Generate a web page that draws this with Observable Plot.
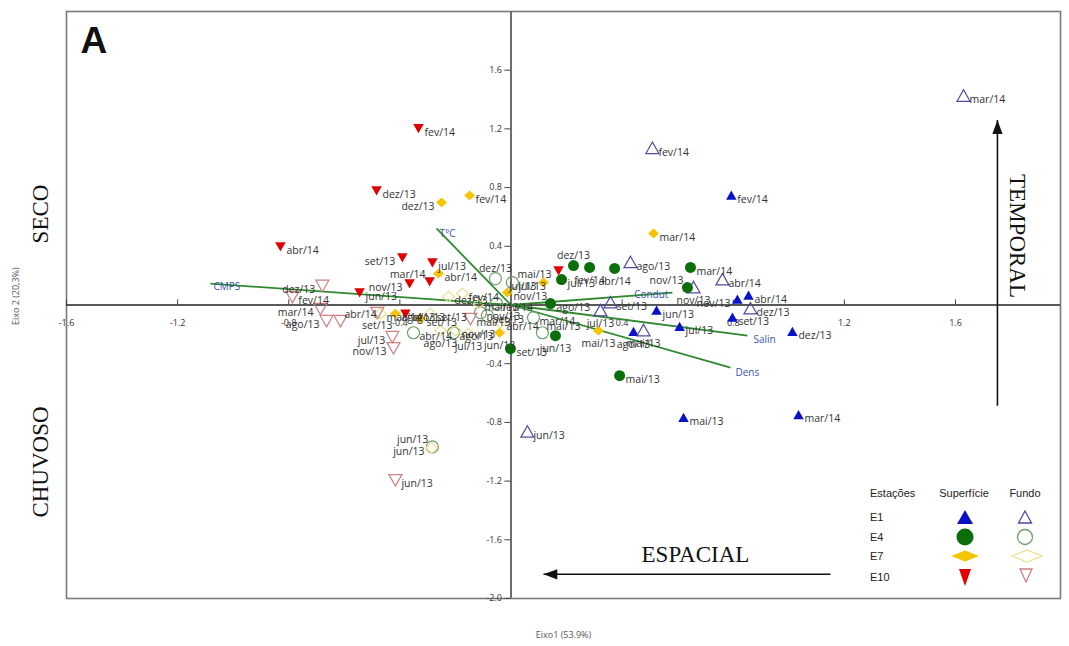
<!DOCTYPE html>
<html>
<head>
<meta charset="utf-8">
<script src="https://cdn.jsdelivr.net/npm/d3@7"></script>
<script src="https://cdn.jsdelivr.net/npm/@observablehq/plot@0.6"></script>
<style>
  html, body { margin: 0; padding: 0; background: #fff; }
  #wrap { position: relative; width: 1069px; height: 646px; }
  #legend { position: absolute; left: 855px; top: 480px; }
</style>
</head>
<body>
<div id="wrap"></div>
<script>
// Sampling months
const months = ["mai/13","jun/13","jul/13","ago/13","set/13","nov/13","dez/13","fev/14","mar/14","abr/14"];

// PCA scores (Eixo 1, Eixo 2) per station and depth, in month order
const e1SupX  = [0.621, 0.524, 0.607, 0.441, 0.797, 0.815, 1.013, 0.793, 1.035, 0.855];
const e1SupY  = [-0.769, -0.038, -0.148, -0.182, -0.086, 0.037, -0.182, 0.747, -0.749, 0.064];
const e1FunX  = [0.477, 0.059, 0.322, 0.430, 0.358, 0.657, 0.862, 0.509, 1.629, 0.761];
const e1FunY  = [-0.174, -0.865, -0.038, 0.290, 0.016, 0.119, -0.025, 1.068, 1.424, 0.173];
const e4SupX  = [0.391, 0.160, 0.182, 0.142, -0.002, 0.635, 0.225, 0.283, 0.646, 0.373];
const e4SupY  = [-0.482, -0.209, 0.173, 0.010, -0.298, 0.119, 0.269, 0.256, 0.256, 0.249];
const e4FunX  = [0.113, -0.283, 0.005, -0.207, -0.085, -0.110, -0.056, -0.052, 0.081, -0.351];
const e4FunY  = [-0.189, -0.967, 0.153, -0.189, -0.072, -0.052, 0.180, 0.010, -0.086, -0.189];
const e7SupX  = [0.315, -0.041, 0.117, -0.416, -0.326, -0.013, -0.250, -0.149, 0.513, -0.261];
const e7SupY  = [-0.175, -0.189, 0.153, -0.059, -0.093, 0.085, 0.699, 0.747, 0.488, 0.214];
const e7FunX  = [-0.117, -0.286, -0.153, -0.254, -0.290, -0.200, -0.225, -0.175, -0.470, -0.038];
const e7FunY  = [0.010, -0.974, -0.195, -0.175, -0.059, -0.175, 0.057, 0.078, -0.059, -0.121];
const e10SupX = [0.171, -0.545, -0.283, -0.380, -0.391, -0.365, -0.484, -0.333, -0.293, -0.830];
const e10SupY = [0.235, 0.085, 0.290, -0.059, 0.324, 0.146, 0.781, 1.205, 0.160, 0.399];
const e10FunX = [-0.146, -0.416, -0.427, -0.664, -0.481, -0.423, -0.679, -0.787, -0.686, -0.614];
const e10FunY = [-0.093, -1.192, -0.216, -0.107, -0.052, -0.292, 0.133, 0.057, -0.025, -0.107];

// Environmental variable loadings
const varNames = ["CMPS", "T°C", "Condut", "Salin", "Dens"];
const varX = [-1.082, -0.268, 0.581, 0.851, 0.790];
const varY = [0.146, 0.522, 0.085, -0.209, -0.427];

// Axis ticks
const xTicks = [-1.6, -1.2, -0.8, -0.4, 0.4, 0.8, 1.2, 1.6];
const yTicks = [1.6, 1.2, 0.8, 0.4, -0.4, -0.8, -1.2, -1.6, -2.0];

// Marker shapes
const triUp = { draw(c, s) { const r = Math.sqrt(s / Math.PI);
  c.moveTo(0, -r); c.lineTo(r * 1.05, r * 0.85); c.lineTo(-r * 1.05, r * 0.85); c.closePath(); } };
const triDown = { draw(c, s) { const r = Math.sqrt(s / Math.PI);
  c.moveTo(0, r); c.lineTo(r * 1.05, -r * 0.85); c.lineTo(-r * 1.05, -r * 0.85); c.closePath(); } };
const diamond = { draw(c, s) { const r = Math.sqrt(s / Math.PI);
  c.moveTo(-r * 0.95, 0); c.lineTo(0, -r * 0.85); c.lineTo(r * 0.95, 0); c.lineTo(0, r * 0.85); c.closePath(); } };
const arrowHead = { draw(c, s) { const r = Math.sqrt(s / Math.PI);
  c.moveTo(0, 0); c.lineTo(r * 0.85, r * 2.3); c.lineTo(-r * 0.85, r * 2.3); c.closePath(); } };

const series = [
  {key: "E1S",  xs: e1SupX,  ys: e1SupY,  symbol: triUp,    r: 5,   fill: "#0a12c8", stroke: "none",    sw: 0},
  {key: "E1F",  xs: e1FunX,  ys: e1FunY,  symbol: triUp,    r: 6.2, fill: "none",    stroke: "#4b4ba3", sw: 1.2},
  {key: "E4S",  xs: e4SupX,  ys: e4SupY,  symbol: "circle", r: 5.5, fill: "#0a6e0a", stroke: "none",    sw: 0},
  {key: "E4F",  xs: e4FunX,  ys: e4FunY,  symbol: "circle", r: 6,   fill: "none",    stroke: "#6c9c6c", sw: 1.2},
  {key: "E7S",  xs: e7SupX,  ys: e7SupY,  symbol: diamond,  r: 5.8, fill: "#f5c400", stroke: "none",    sw: 0},
  {key: "E7F",  xs: e7FunX,  ys: e7FunY,  symbol: diamond,  r: 6.2, fill: "none",    stroke: "#ebe08e", sw: 1.2},
  {key: "E10S", xs: e10SupX, ys: e10SupY, symbol: triDown,  r: 5,   fill: "#e00000", stroke: "none",    sw: 0},
  {key: "E10F", xs: e10FunX, ys: e10FunY, symbol: triDown,  r: 6.2, fill: "none",    stroke: "#cc8080", sw: 1.2}
];

// Where each month label sits relative to its marker (default: right)
const labelPlacement = {
  "E1S nov/13": "l", "E1S ago/13": "b",
  "E1F mai/13": "b", "E1F jul/13": "b", "E1F nov/13": "b",
  "E4S nov/13": "lu", "E4S jun/13": "b", "E4S abr/14": "b", "E4S fev/14": "b", "E4S dez/13": "a",
  "E4F jun/13": "lu", "E4F dez/13": "a", "E4F mai/13": "ru",
  "E7S dez/13": "l", "E7S jul/13": "l", "E7S mai/13": "b", "E7S jun/13": "b",
  "E7F jun/13": "l", "E7F jul/13": "b", "E7F ago/13": "b",
  "E10S set/13": "l", "E10S nov/13": "l", "E10S mar/14": "lu", "E10S mai/13": "l",
  "E10F dez/13": "l", "E10F mar/14": "l", "E10F ago/13": "l", "E10F jul/13": "l",
  "E10F nov/13": "l", "E10F set/13": "b", "E10F abr/14": "ru"
};
const placements = {
  r:  {dx: 6,  dy: 4,  textAnchor: "start"},
  l:  {dx: -7, dy: 4,  textAnchor: "end"},
  b:  {dx: 0,  dy: 13, textAnchor: "middle"},
  a:  {dx: 0,  dy: -10, textAnchor: "middle"},
  lu: {dx: -4, dy: -7, textAnchor: "end"},
  ru: {dx: 4,  dy: -6, textAnchor: "start"}
};

const points = series.flatMap(s => months.map((m, i) => ({
  key: s.key, month: m, x: s.xs[i], y: s.ys[i],
  side: labelPlacement[`${s.key} ${m}`] || "r"
})));

const vectors = varNames.map((name, i) => ({name, x: varX[i], y: varY[i]}));
const vectorLabel = {
  "CMPS":   {dx: 3,  dy: 3, textAnchor: "start"},
  "T°C":    {dx: 3,  dy: 5, textAnchor: "start"},
  "Condut": {dx: -4, dy: 2, textAnchor: "end"},
  "Salin":  {dx: 6,  dy: 4, textAnchor: "start"},
  "Dens":   {dx: 5,  dy: 5, textAnchor: "start"}
};

// Interpretive annotations: axis meanings and arrows
const sideNotes = [
  {text: "SECO",    x: -1.694, y: 0.62,  rotate: -90},
  {text: "CHUVOSO", x: -1.694, y: -1.07, rotate: -90},
  {text: "TEMPORAL", x: 1.822, y: 0.47,  rotate: 90},
  {text: "ESPACIAL", x: 0.664, y: -1.70, rotate: 0}
];
const arrows = [
  {x1: 1.751, y1: -0.687, x2: 1.751, y2: 1.26,   rotate: 0},
  {x1: 1.150, y1: -1.835, x2: 0.117, y2: -1.835, rotate: -90}
];

const labelFont = "'Open Sans', sans-serif";

const marks = [
  Plot.frame({stroke: "#7a7a7a", strokeWidth: 1.6}),
  Plot.ruleX([0], {stroke: "#6e6e6e", strokeWidth: 2}),
  Plot.ruleY([0], {stroke: "#222", strokeWidth: 1.3}),
  Plot.ruleX(xTicks, {x: d => d, y1: 0, y2: 0.035, stroke: "#444"}),
  Plot.ruleY(yTicks, {y: d => d, x1: -0.022, x2: 0, stroke: "#444"}),
  Plot.text(xTicks, {x: d => d, y: 0, text: d => d.toFixed(1), dy: 18, fontSize: 9, fill: "#333"}),
  Plot.text(yTicks, {x: 0, y: d => d, text: d => d.toFixed(1), dx: -9, textAnchor: "end", fontSize: 9, fill: "#333"}),
  Plot.link(vectors, {x1: 0, y1: 0, x2: "x", y2: "y", stroke: "#2e8a2e", strokeWidth: 1.8})
];

for (const s of series) {
  marks.push(Plot.dot(points.filter(p => p.key === s.key), {
    x: "x", y: "y", symbol: s.symbol, r: s.r,
    fill: s.fill, stroke: s.stroke, strokeWidth: s.sw
  }));
}

for (const [side, opt] of Object.entries(placements)) {
  marks.push(Plot.text(points.filter(p => p.side === side), {
    x: "x", y: "y", text: "month", ...opt,
    fontSize: 10.5, fontFamily: labelFont, fill: "#333"
  }));
}

for (const v of vectors) {
  marks.push(Plot.text([v], {
    x: "x", y: "y", text: "name", ...vectorLabel[v.name],
    fontSize: 10, fontFamily: labelFont, fill: "#3a55b0"
  }));
}

marks.push(
  Plot.link(arrows, {x1: "x1", y1: "y1", x2: "x2", y2: "y2", stroke: "#111", strokeWidth: 1.6}),
  ...arrows.map(a => Plot.dot([a], {x: "x2", y: "y2", symbol: arrowHead, r: 6, fill: "#111", rotate: a.rotate})),
  ...sideNotes.map(n => Plot.text([n], {
    x: "x", y: "y", text: "text", rotate: n.rotate,
    fontSize: 23, fontFamily: "'Liberation Serif', 'Times New Roman', serif", fill: "#111"
  })),
  Plot.text(["A"], {frameAnchor: "top-left", dx: 14, dy: 15, lineAnchor: "top", textAnchor: "start",
    fontSize: 37, fontWeight: "bold", fontFamily: "'Liberation Sans', Arial, sans-serif", fill: "#111"}),
  Plot.text(["Eixo1 (53.9%)"], {frameAnchor: "bottom", dy: 39, fontSize: 9, fill: "#555",
    fontFamily: labelFont}),
  Plot.text([{t: "Eixo 2 (20,3%)", x: -1.78, y: 0.06}], {x: "x", y: "y", text: "t", rotate: -90,
    fontSize: 9, fill: "#555", fontFamily: labelFont})
);

const chart = Plot.plot({
  width: 1069, height: 646,
  marginLeft: 66, marginRight: 9, marginTop: 11, marginBottom: 48,
  x: {domain: [-1.6, 1.978], axis: null},
  y: {domain: [-2.0, 2.0], axis: null},
  style: {background: "white", fontFamily: labelFont},
  marks
});

const wrap = document.getElementById("wrap");
wrap.appendChild(chart);

// Legend: station rows, surface (filled) and bottom (hollow) columns
const legendStations = ["E1", "E4", "E7", "E10"];
const legendRowY = [37, 57, 76, 97];
const legendSurface = [
  '<path d="M110,30 L118,44 L102,44 Z" fill="#0a12c8"/>',
  '<circle cx="110" cy="57" r="8.5" fill="#0a6e0a"/>',
  '<path d="M96,76 L110,70.5 L124,76 L110,81.5 Z" fill="#f5c400"/>',
  '<path d="M104,89 L116,89 L110,106 Z" fill="#e00000"/>'
];
const legendBottom = [
  '<path d="M170,31 L176.5,43 L163.5,43 Z" fill="none" stroke="#4b4ba3" stroke-width="1.3"/>',
  '<circle cx="170" cy="57" r="7.5" fill="none" stroke="#6c9c6c" stroke-width="1.3"/>',
  '<path d="M157,76 L172,70 L187,76 L172,82 Z" fill="none" stroke="#ebe08e" stroke-width="1.3"/>',
  '<path d="M165,89 L177,89 L171,102 Z" fill="none" stroke="#cc8080" stroke-width="1.3"/>'
];
const ns = "http://www.w3.org/2000/svg";
const leg = document.createElementNS(ns, "svg");
leg.setAttribute("id", "legend");
leg.setAttribute("width", 205);
leg.setAttribute("height", 115);
leg.setAttribute("font-family", "'Liberation Sans', Arial, sans-serif");
leg.setAttribute("font-size", "11");
leg.innerHTML =
  `<text x="15" y="17" fill="#222">Estações</text>` +
  `<text x="109" y="17" fill="#222" text-anchor="middle">Superfície</text>` +
  `<text x="170" y="17" fill="#222" text-anchor="middle">Fundo</text>` +
  legendStations.map((s, i) => `<text x="15" y="${legendRowY[i] + 4}" fill="#222">${s}</text>`).join("") +
  legendSurface.join("") + legendBottom.join("");
wrap.appendChild(leg);
</script>
</body>
</html>
